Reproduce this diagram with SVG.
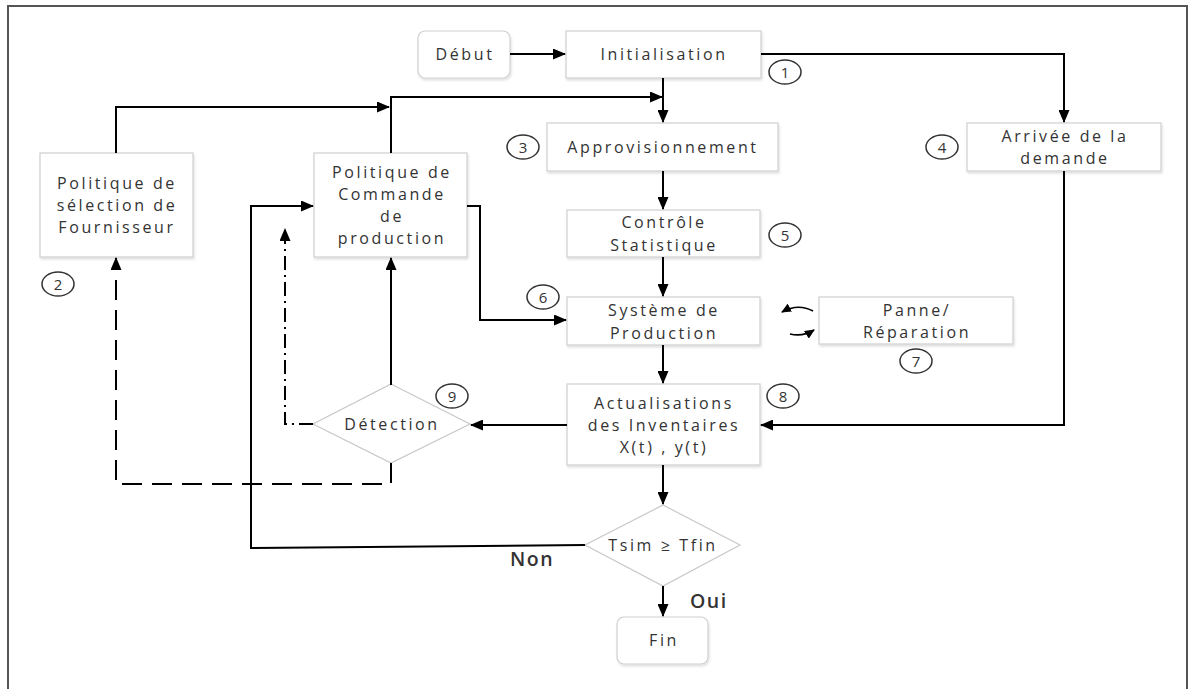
<svg xmlns="http://www.w3.org/2000/svg" width="1189" height="689" viewBox="0 0 1189 689">
<defs>
<marker id="ah" markerUnits="userSpaceOnUse" markerWidth="13" markerHeight="11" refX="12" refY="5.5" orient="auto">
<path d="M0,0 L13,5.5 L0,11 z" fill="#000"/>
</marker>
<marker id="ahs" markerUnits="userSpaceOnUse" markerWidth="10" markerHeight="9" refX="9" refY="4.5" orient="auto">
<path d="M0,0 L10,4.5 L0,9 z" fill="#000"/>
</marker>
<filter id="sh" x="-10%" y="-10%" width="130%" height="140%">
<feDropShadow dx="1" dy="2" stdDeviation="1.2" flood-color="#000" flood-opacity="0.12"/>
</filter>
</defs>
<style>
.box{fill:#fff;stroke:#cfcfcf;stroke-width:1.2;filter:url(#sh)}
.dia{fill:#fff;stroke:#c8c8c8;stroke-width:1.2}
.t{font-family:"Open Sans","DejaVu Sans",sans-serif;font-size:16px;fill:#333;text-anchor:middle;letter-spacing:2.6px}
.n{font-family:"Open Sans","DejaVu Sans",sans-serif;font-size:15px;fill:#333;text-anchor:middle;dominant-baseline:central}
.num{fill:#fff;stroke:#333;stroke-width:1.5}
.c{fill:none;stroke:#000;stroke-width:2}
.lbl{font-family:"Open Sans","DejaVu Sans",sans-serif;font-size:19.5px;font-weight:600;fill:#333;letter-spacing:1.5px}
</style>
<rect width="1189" height="689" fill="#fff"/>
<g id="frame" fill="none" stroke="#555" stroke-width="2">
<path d="M8,689 L8,6 L1187,6 L1187,689"/>
</g>

<g id="debut"><rect class="box" x="418" y="31" width="92" height="47" rx="7"/><text class="t" x="465" y="60">Début</text></g>
<g id="init"><rect class="box" x="566" y="31" width="195" height="47"/><text class="t" x="664" y="60">Initialisation</text></g>
<g id="appro"><rect class="box" x="547" y="123" width="231" height="48"/><text class="t" x="663" y="153">Approvisionnement</text></g>
<g id="arrivee"><rect class="box" x="967" y="123" width="194" height="48"/><text class="t" x="1065" y="142">Arrivée de la</text><text class="t" x="1065" y="164">demande</text></g>
<g id="polsel"><rect class="box" x="40" y="153" width="153" height="104"/><text class="t" x="117" y="189">Politique de</text><text class="t" x="117" y="211">sélection de</text><text class="t" x="117" y="233">Fournisseur</text></g>
<g id="polcmd"><rect class="box" x="314" y="153" width="153" height="104"/><text class="t" x="392" y="178">Politique de</text><text class="t" x="392" y="200">Commande</text><text class="t" x="392" y="222">de</text><text class="t" x="392" y="244">production</text></g>
<g id="controle"><rect class="box" x="567" y="210" width="193" height="47"/><text class="t" x="664" y="228">Contrôle</text><text class="t" x="664" y="251">Statistique</text></g>
<g id="systeme"><rect class="box" x="567" y="297" width="193" height="48"/><text class="t" x="664" y="316">Système de</text><text class="t" x="664" y="339">Production</text></g>
<g id="panne"><rect class="box" x="819" y="297" width="194" height="47"/><text class="t" x="917" y="316">Panne/</text><text class="t" x="917" y="338">Réparation</text></g>
<g id="actu"><rect class="box" x="567" y="384" width="193" height="81"/><text class="t" x="664" y="409">Actualisations</text><text class="t" x="664" y="431">des Inventaires</text><text class="t" x="664" y="453">X(t) , y(t)</text></g>
<g id="detection"><polygon class="dia" points="391,384 470,424 391,463 313,424"/><text class="t" x="392" y="430">Détection</text></g>
<g id="tsim"><polygon class="dia" points="663,505 740,545 663,586 585,545"/><text class="t" x="663" y="551" letter-spacing="1.6px">Tsim ≥  Tfin</text></g>
<g id="fin"><rect class="box" x="617" y="617" width="91" height="47" rx="7"/><text class="t" x="664" y="646">Fin</text></g>

<g id="nums">
<ellipse class="num" cx="785" cy="72" rx="16" ry="12"/><text class="n" x="785" y="72">1</text>
<ellipse class="num" cx="58" cy="284" rx="16" ry="12"/><text class="n" x="58" y="284">2</text>
<ellipse class="num" cx="523" cy="147" rx="16" ry="12"/><text class="n" x="523" y="147">3</text>
<ellipse class="num" cx="942" cy="147" rx="16" ry="12"/><text class="n" x="942" y="147">4</text>
<ellipse class="num" cx="785" cy="235" rx="16" ry="12"/><text class="n" x="785" y="235">5</text>
<ellipse class="num" cx="543" cy="297" rx="16" ry="12"/><text class="n" x="543" y="297">6</text>
<ellipse class="num" cx="916" cy="361" rx="16" ry="12"/><text class="n" x="916" y="361">7</text>
<ellipse class="num" cx="783" cy="396" rx="16" ry="12"/><text class="n" x="783" y="396">8</text>
<ellipse class="num" cx="452" cy="396" rx="16" ry="12"/><text class="n" x="452" y="396">9</text>
</g>

<g id="connectors">
<path class="c" d="M510,54 L565,54" marker-end="url(#ah)"/>
<path class="c" d="M761,54 L1064,54 L1064,122" marker-end="url(#ah)"/>
<path class="c" d="M663,78 L663,122" marker-end="url(#ah)"/>
<path class="c" d="M391,153 L391,97 L662,97" marker-end="url(#ah)"/>
<path class="c" d="M116,153 L116,107 L389,107" marker-end="url(#ah)"/>
<path class="c" d="M663,171 L663,209" marker-end="url(#ah)"/>
<path class="c" d="M663,257 L663,296" marker-end="url(#ah)"/>
<path class="c" d="M467,206 L480,206 L480,320 L566,320" marker-end="url(#ah)"/>
<path class="c" d="M663,345 L663,383" marker-end="url(#ah)"/>
<path class="c" d="M1064,171 L1064,425 L761,425" marker-end="url(#ah)"/>
<path class="c" d="M567,425 L471,425" marker-end="url(#ah)"/>
<path class="c" d="M391,385 L391,258" marker-end="url(#ah)"/>
<path class="c" d="M391,463 L391,484 L116,484 L116,258" stroke-dasharray="20 10" marker-end="url(#ah)"/>
<path class="c" d="M313,424 L285,424 L285,229" stroke-dasharray="14 5 2 5" marker-end="url(#ah)"/>
<path class="c" d="M663,465 L663,504" marker-end="url(#ah)"/>
<path class="c" d="M585,545 L251,548 L251,206 L313,206" marker-end="url(#ah)"/>
<path class="c" d="M663,586 L663,616" marker-end="url(#ah)"/>
<path fill="none" stroke="#000" stroke-width="1.6" d="M813,311 Q798,303 782,312" marker-end="url(#ahs)"/>
<path fill="none" stroke="#000" stroke-width="1.6" d="M790,334 Q803,337 814,330" marker-end="url(#ahs)"/>
</g>

<g id="labels">
<text class="lbl" x="510" y="566">Non</text>
<text class="lbl" x="690" y="608">Oui</text>
</g>
</svg>
